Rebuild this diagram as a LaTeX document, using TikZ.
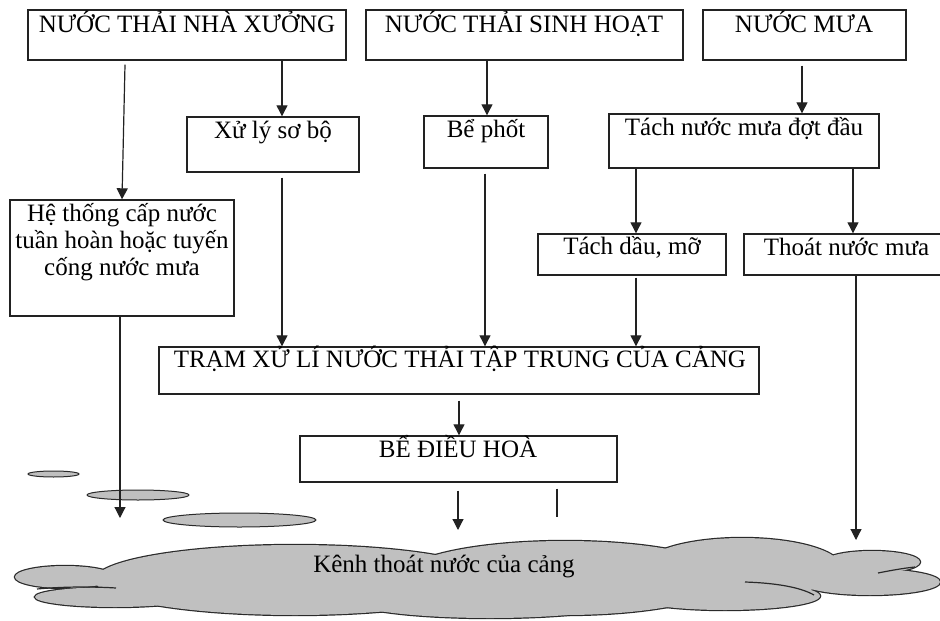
\documentclass[tikz,border=0pt]{standalone}
\usepackage{fontspec}
\setmainfont{Liberation Serif}
\usetikzlibrary{arrows.meta}
\definecolor{ink}{HTML}{222222}
\definecolor{cloudgray}{HTML}{C0C0C0}
\definecolor{cloudline}{HTML}{2A2A2A}
\begin{document}
\begin{tikzpicture}[x=1pt,y=-1pt,
  box/.style={draw=ink, line width=1.4pt, rectangle, inner sep=0pt},
  lbl/.style={font=\fontsize{25}{27}\selectfont, anchor=base, inner sep=0pt, text=black},
  arr/.style={draw=ink, line width=1.2pt, -{Triangle[width=11pt,length=11pt]}},
  puddle/.style={fill=cloudgray, draw=cloudline, line width=1pt}
]
\useasboundingbox (0,0) rectangle (940,621);
\fill[white] (0,0) rectangle (940,621);

% boxes
\node[box, minimum width=318pt, minimum height=50pt] (b1) at (187,35) {};
\node[box, minimum width=317pt, minimum height=50pt] (b2) at (524.5,35) {};
\node[box, minimum width=203pt, minimum height=50pt] (b3) at (804.5,35) {};
\node[box, minimum width=172pt, minimum height=55pt] (b4) at (273,144.5) {};
\node[box, minimum width=124pt, minimum height=52pt] (b5) at (486,142) {};
\node[box, minimum width=270pt, minimum height=54pt] (b6) at (744,141) {};
\node[box, minimum width=224pt, minimum height=116pt] (b7) at (122,258) {};
\node[box, minimum width=600pt, minimum height=47pt] (b8) at (459,370.5) {};
\node[box, minimum width=188pt, minimum height=41pt] (b9) at (632,254.5) {};
\node[box, minimum width=205pt, minimum height=41pt] (b10) at (846.5,254.5) {};
\node[box, minimum width=317pt, minimum height=46pt] (b11) at (458.5,459) {};

% labels
\node[lbl] (t1) at (187,32) {NƯỚC THẢI NHÀ XƯỞNG};
\node[lbl] (t2) at (524,32) {NƯỚC THẢI SINH HOẠT};
\node[lbl] (t3) at (804,32) {NƯỚC MƯA};
\node[lbl] (t4) at (273,138) {Xử lý sơ bộ};
\node[lbl] (t5) at (486,137) {Bể phốt};
\node[lbl] (t6) at (744,135) {Tách nước mưa đợt đầu};
\node[lbl] (t7a) at (122,221) {Hệ thống cấp nước};
\node[lbl] (t7b) at (122,248) {tuần hoàn hoặc tuyến};
\node[lbl] (t7c) at (122,275) {cống nước mưa};
\node[lbl] (t8) at (460,367) {TRẠM XỬ LÍ NƯỚC THẢI TẬP TRUNG CỦA CẢNG};
\node[lbl] (t9) at (632,254) {Tách dầu, mỡ};
\node[lbl] (t10) at (846.5,255) {Thoát nước mưa};
\node[lbl] (t11) at (458,457) {BỂ ĐIỀU HOÀ};

% puddles
\path[puddle] (53.5,474) ellipse [x radius=25.5pt, y radius=3pt];
\path[puddle] (138,495) ellipse [x radius=51pt, y radius=5pt];
\path[puddle] (239.5,520) ellipse [x radius=76.5pt, y radius=7pt];

% cloud
\def\lobes{65/577/50/11, 115/597/80/10, 295/580/200/35, 490/600/140/18, 565/578/165/37, 742/568/100/30, 725/596/95/14, 872/562/48/11, 870/582/70/13}
\foreach \cx/\cy/\rx/\ry in \lobes {\fill[cloudgray] (\cx,\cy) ellipse [x radius=\rx pt, y radius=\ry pt];}
\foreach \cx/\cy/\rx/\ry in \lobes {\draw[cloudline, line width=2.4pt] (\cx,\cy) ellipse [x radius=\rx pt, y radius=\ry pt];}
\foreach \cx/\cy/\rx/\ry in \lobes {\fill[cloudgray] (\cx,\cy) ellipse [x radius=\rx pt, y radius=\ry pt];}
\draw[cloudline, line width=1.2pt] (37,589) .. controls (70,586) and (100,587) .. (116,588);
\draw[cloudline, line width=1.2pt] (878,573) .. controls (893,570) and (905,568) .. (915,567);
\draw[cloudline, line width=1.2pt] (745,582) .. controls (775,583) and (800,587) .. (814,595);
\node[lbl] (cloudtext) at (444,572) {Kênh thoát nước của cảng};

% free ends on the cloud
\coordinate (c1) at (856,540);
\coordinate (c2) at (120,518);
\coordinate (c3) at (458,530);
\coordinate (c4) at (557,517);

% connectors
\draw[arr] ([xshift=-62pt,yshift=-4pt]b1.south) -- (b7.north);
\draw[arr] ([xshift=95pt]b1.south) -- ([xshift=9pt]b4.north);
\draw[arr] ([xshift=-37.5pt]b2.south) -- ([xshift=1pt]b5.north);
\draw[arr] ([xshift=-2.5pt,yshift=-5pt]b3.south) -- ([xshift=58pt]b6.north);
\draw[arr] ([xshift=9pt,yshift=-5pt]b4.south) -- ([xshift=-177pt]b8.north);
\draw[arr] ([xshift=-1pt,yshift=-5pt]b5.south) -- ([xshift=26pt]b8.north);
\draw[arr] ([xshift=-108pt]b6.south) -- ([xshift=4pt]b9.north);
\draw[arr] ([xshift=109pt]b6.south) -- ([xshift=6.5pt]b10.north);
\draw[arr] ([xshift=4pt,yshift=-2pt]b9.south) -- ([xshift=177pt]b8.north);
\draw[arr] ([xshift=9.5pt]b10.south) -- (c1);
\draw[arr] ([xshift=-2pt]b7.south) -- (c2);
\draw[arr] ([yshift=-6pt]b8.south) -- ([xshift=0.5pt]b11.north);
\draw[arr] ([xshift=-0.5pt,yshift=-8pt]b11.south) -- (c3);
\draw[draw=ink, line width=2pt] ([xshift=98.5pt,yshift=-6pt]b11.south) -- (c4);
\end{tikzpicture}
\end{document}
